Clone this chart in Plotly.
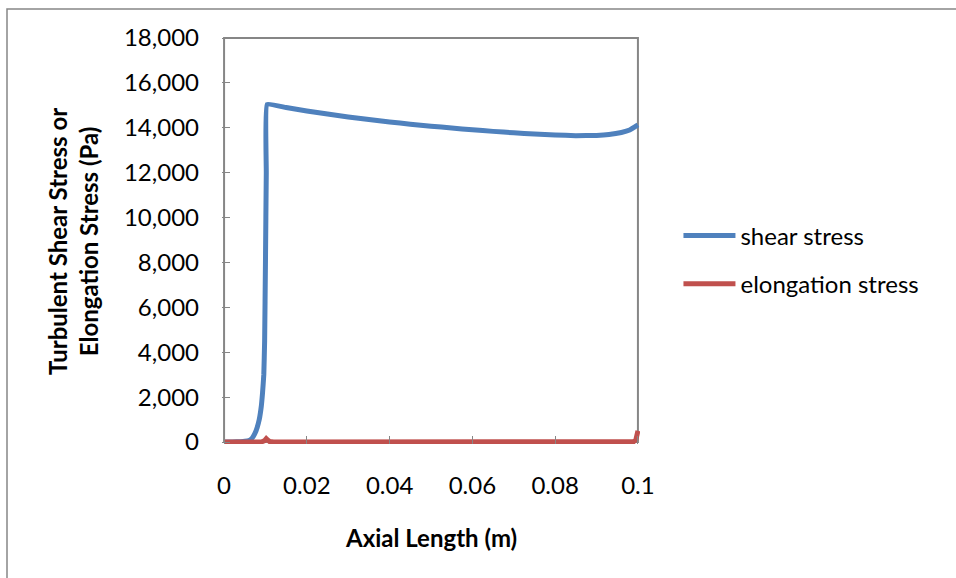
import plotly.graph_objects as go

# ---- data ----
x_shear = [0, 0.002, 0.004, 0.005, 0.006, 0.0065, 0.007, 0.0075, 0.008, 0.0085, 0.009,
           0.0093, 0.0096, 0.0098, 0.0100, 0.0102, 0.0104, 0.015, 0.02, 0.025,
           0.03, 0.035, 0.04, 0.045, 0.05, 0.055, 0.06, 0.065, 0.07, 0.075, 0.08,
           0.085, 0.09, 0.093, 0.096, 0.098, 0.1]
shear = [0, 5, 15, 30, 60, 120, 230, 400, 650, 1000, 1600,
         2200, 3000, 4500, 8000, 12000, 15045, 14900, 14750, 14610,
         14480, 14365, 14260, 14160, 14070, 13990, 13910, 13840, 13775, 13720, 13680,
         13650, 13660, 13700, 13790, 13900, 14130]

x_elong = [0, 0.009, 0.0098, 0.0102, 0.0106, 0.011, 0.012, 0.05, 0.098, 0.099, 0.0995, 0.1]
elong = [0, 0, 60, 150, 80, 20, 0, 0, 0, 20, 100, 500]

x_tickvals = [0, 0.02, 0.04, 0.06, 0.08, 0.1]
x_ticktext = ["0", "0.02", "0.04", "0.06", "0.08", "0.1"]
y_tickvals = [0, 2000, 4000, 6000, 8000, 10000, 12000, 14000, 16000, 18000]
y_ticktext = ["0", "2,000", "4,000", "6,000", "8,000", "10,000", "12,000", "14,000", "16,000", "18,000"]

FONT = "Lato"
BLUE = "#4F81BD"
RED = "#C0504D"
GRAY = "#868686"

fig = go.Figure()
fig.add_trace(go.Scatter(x=x_shear, y=shear, mode="lines", name="shear stress",
                         line=dict(color=BLUE, width=5, shape="spline", smoothing=0.3),
                         legendgroup="a"))
fig.add_trace(go.Scatter(x=x_elong, y=elong, mode="lines", name="elongation stress",
                         line=dict(color=RED, width=5), legendgroup="b"))

# small padding so lines on the edges are not clipped
xpad = 0.0005
ypad = 2 * 18000 / 404

W, H = 956, 578
L, R, T, B = 222, 956 - 640, 36, 578 - 444

fig.update_layout(
    width=W, height=H,
    margin=dict(l=L, r=R, t=T, b=B),
    paper_bgcolor="white", plot_bgcolor="white",
    font=dict(family=FONT, color="#000000", size=24),
    showlegend=True,
    legend=dict(x=1.092, y=0.565, xanchor="left", yanchor="top",
                font=dict(family=FONT, size=24, color="#000000"),
                traceorder="grouped", tracegroupgap=14, itemwidth=52,
                bgcolor="rgba(0,0,0,0)"),
    xaxis=dict(range=[-xpad, 0.1 + xpad], tickvals=x_tickvals, ticktext=x_ticktext,
               showgrid=False, zeroline=False, showline=False,
               ticks="inside", ticklen=8, tickcolor=GRAY, tickwidth=1,
               tickfont=dict(family=FONT, size=24, color="#000000"),
               ticklabelstandoff=25),
    yaxis=dict(range=[-ypad, 18000 + ypad], tickvals=y_tickvals, ticktext=y_ticktext,
               showgrid=False, zeroline=False, showline=False,
               ticks="inside", ticklen=8, tickcolor=GRAY, tickwidth=1,
               tickfont=dict(family=FONT, size=24, color="#000000"),
               ticklabelstandoff=22),
    shapes=[
        dict(type="rect", xref="x", yref="y", x0=0, x1=0.1, y0=0, y1=18000,
             line=dict(color=GRAY, width=2), layer="below"),
        dict(type="rect", xref="paper", yref="paper",
             x0=(7 - L) / 418, x1=(W + 20 - L) / 418,
             y0=-(H + 20 - 444) / 408, y1=(444 - 9) / 408,
             line=dict(color=GRAY, width=1.5), layer="below"),
    ],
    annotations=[
        dict(text="<b>Axial Length (m)</b>", xref="paper", yref="paper",
             x=(431 - L) / 418, y=-(537 - 444) / 408, xanchor="center", yanchor="middle",
             showarrow=False, font=dict(family=FONT, size=24, color="#000000")),
        dict(text="<b>Turbulent Shear Stress or<br>Elongation Stress (Pa)</b>",
             xref="paper", yref="paper", textangle=-90,
             x=(73 - L) / 418, y=(444 - 242) / 408, xanchor="center", yanchor="middle",
             showarrow=False, font=dict(family=FONT, size=24, color="#000000")),
    ],
)

fig.write_html("out.html")
